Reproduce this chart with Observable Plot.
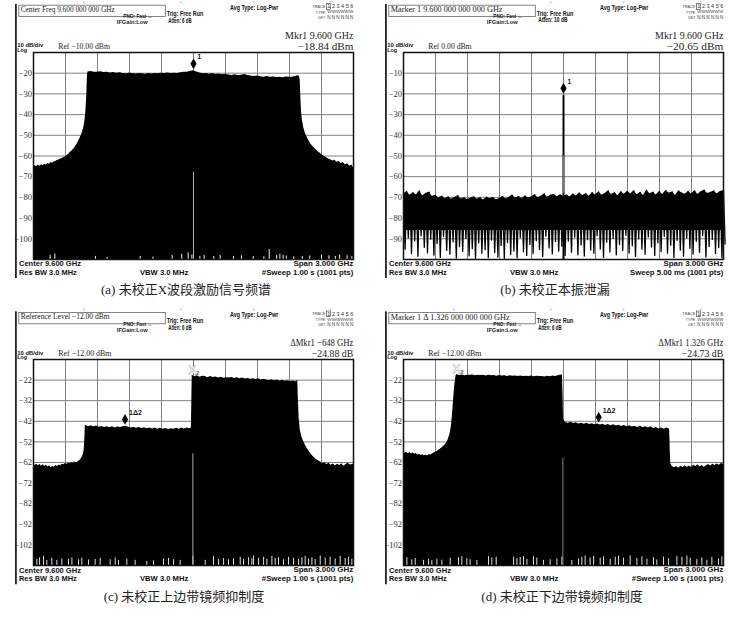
<!DOCTYPE html>
<html><head><meta charset="utf-8">
<script src="https://cdn.jsdelivr.net/npm/d3@7"></script>
<script src="https://cdn.jsdelivr.net/npm/@observablehq/plot@0.6"></script>
<style>
body{margin:0;background:#fff;}
#root{position:relative;width:733px;height:618px;overflow:hidden;background:#fff}
.pl{position:absolute}
</style></head><body>
<div id="root"></div>
<script>
// ---------------- DATA ----------------
const xGrid = [8.1, 8.4, 8.7, 9.0, 9.3, 9.6, 9.9, 10.2, 10.5, 10.8, 11.1];
const yGridA = [-10,-20,-30,-40,-50,-60,-70,-80,-90,-100,-110];
const yLabelsA = [-20,-30,-40,-50,-60,-70,-80,-90,-100];
const yGridB = [0,-10,-20,-30,-40,-50,-60,-70,-80,-90,-100];
const yLabelsB = [-10,-20,-30,-40,-50,-60,-70,-80,-90];
const yGridC = [-12,-22,-32,-42,-52,-62,-72,-82,-92,-102,-112];
const yLabelsC = [-22,-32,-42,-52,-62,-72,-82,-92,-102];

// (a) X-band excitation spectrum trace [GHz, dBm]
const aTrace = [
[8.100,-65.5],[8.115,-64.6],[8.130,-65.2],[8.145,-64.4],[8.160,-64.9],[8.175,-64.2],[8.190,-64.7],[8.205,-63.9],
[8.220,-64.3],[8.235,-63.6],[8.250,-64.0],[8.265,-63.2],[8.280,-63.5],[8.295,-62.8],[8.310,-62.6],[8.325,-62.1],
[8.340,-61.9],[8.355,-61.5],[8.370,-61.2],[8.385,-60.7],[8.400,-60.4],[8.415,-59.8],[8.430,-59.2],[8.445,-58.3],
[8.460,-57.6],[8.475,-56.9],[8.490,-55.8],[8.505,-54.6],[8.520,-53.2],[8.535,-51.5],[8.550,-49.8],[8.565,-47.5],
[8.575,-45.5],[8.585,-42.0],[8.593,-37.0],[8.600,-30.0],[8.605,-22.0],[8.610,-19.4],[8.640,-19.2],[8.670,-19.5],
[8.700,-19.6],[8.730,-19.3],[8.760,-19.7],[8.790,-19.6],[8.820,-19.9],[8.850,-19.7],[8.880,-20.0],[8.910,-19.8],
[8.940,-20.1],[8.970,-20.3],[9.000,-20.0],[9.030,-20.2],[9.060,-20.4],[9.090,-20.1],[9.120,-20.3],[9.150,-20.5],
[9.180,-20.2],[9.210,-20.4],[9.240,-20.1],[9.270,-20.3],[9.300,-20.0],[9.330,-20.2],[9.360,-19.9],[9.390,-20.1],
[9.420,-20.0],[9.450,-20.2],[9.480,-19.8],[9.510,-19.6],[9.540,-19.5],[9.570,-19.2],[9.600,-18.84],[9.630,-19.4],
[9.660,-19.9],[9.690,-20.3],[9.720,-20.1],[9.750,-20.5],[9.780,-20.2],[9.810,-20.6],[9.840,-20.4],[9.870,-20.8],
[9.900,-20.5],[9.930,-20.9],[9.960,-21.1],[9.990,-20.8],[10.020,-21.2],[10.050,-21.0],[10.080,-20.6],[10.110,-21.1],
[10.140,-21.4],[10.170,-21.6],[10.200,-21.3],[10.230,-21.7],[10.260,-21.9],[10.290,-21.6],[10.320,-22.0],[10.350,-21.8],
[10.380,-22.1],[10.410,-21.9],[10.440,-22.2],[10.470,-21.8],[10.500,-22.0],[10.530,-21.9],[10.560,-21.5],[10.590,-21.2],
[10.600,-23.0],[10.605,-30.0],[10.612,-38.0],[10.620,-42.5],[10.632,-46.0],[10.648,-49.0],[10.665,-51.0],[10.685,-53.0],
[10.705,-54.6],[10.725,-55.8],[10.745,-56.9],[10.765,-57.8],[10.785,-58.6],[10.805,-59.4],[10.825,-60.1],[10.845,-60.7],
[10.865,-61.4],[10.885,-61.8],[10.905,-62.4],[10.925,-62.1],[10.945,-63.0],[10.965,-62.7],[10.985,-63.6],[11.005,-63.2],
[11.025,-64.3],[11.045,-63.8],[11.065,-65.0],[11.085,-64.4],[11.100,-65.8]];
// (a) gaps at the bottom of the trace [GHz, top dBm]
const aGaps = [[8.256,-108],[8.30,-107.4],[8.68,-108.5],[8.79,-109],[9.10,-108.5],[9.22,-108.8],[9.40,-108],[9.49,-107.5],
[9.55,-106.8],[9.585,-107.8],[9.66,-108.5],[9.70,-108],[9.79,-108.5],[9.85,-108],[9.975,-108.5],[10.05,-108.2],[10.16,-108.5],
[10.26,-108.7],[10.31,-105.2],[10.38,-108],[10.41,-107.5],[10.44,-108],[10.47,-108.3],[10.54,-108.7],[10.62,-108.5],
[10.69,-108.3],[10.80,-107.8],[10.87,-108.2],[10.93,-108.5],[10.97,-107.9],[11.04,-108.2],[11.085,-108.6]];
const aCarrier = [[9.6, -67.8]];
const aMarker = [[9.6, -18.84]];

// (b) LO leakage: noise extremes on 101 sweep bins (8.10 ... 11.10 GHz)
const bTop = [-68.5,-67.2,-69.0,-67.8,-68.9,-66.9,-69.3,-68.1,-67.5,-69.6,
-69.0,-70.2,-69.4,-70.6,-69.8,-70.9,-70.1,-69.2,-70.8,-70.3,
-71.0,-70.4,-69.7,-70.9,-70.2,-71.2,-69.9,-70.6,-70.1,-71.1,
-70.5,-69.6,-70.8,-70.0,-68.9,-70.4,-69.5,-70.7,-69.3,-70.2,
-69.8,-68.7,-70.1,-69.4,-68.3,-69.9,-69.0,-68.6,-69.7,-68.8,
-69.5,-68.9,-69.8,-68.4,-69.3,-67.9,-69.1,-68.2,-69.4,-67.7,
-68.8,-67.4,-69.0,-68.1,-66.9,-68.6,-67.8,-69.2,-67.3,-68.5,
-67.0,-68.4,-66.8,-68.7,-67.6,-69.1,-66.6,-68.3,-67.5,-68.9,
-67.2,-68.6,-66.7,-68.0,-67.4,-69.0,-66.9,-67.9,-68.5,-67.1,
-68.3,-66.8,-68.6,-67.3,-66.5,-68.1,-67.6,-66.9,-68.4,-67.2,-66.8];
const bBottom = [-95.0,-89.5,-97.2,-91.0,-98.4,-88.6,-94.1,-96.8,-90.2,-97.9,
-92.3,-99.0,-88.9,-95.6,-97.4,-91.5,-99.3,-93.8,-96.1,-89.8,
-98.2,-94.7,-99.5,-92.0,-97.0,-95.3,-99.1,-90.6,-96.7,-98.8,
-93.2,-99.4,-91.8,-97.6,-95.9,-99.2,-89.4,-96.3,-98.0,-92.7,
-97.1,-90.9,-95.2,-98.6,-88.7,-94.4,-97.3,-91.3,-96.0,-93.6,
-98.0,-91.1,-96.5,-89.2,-97.7,-93.0,-98.3,-90.4,-95.4,-97.0,
-88.5,-94.9,-99.0,-91.6,-96.4,-89.9,-97.8,-92.8,-95.7,-88.3,
-96.9,-93.4,-98.5,-90.0,-95.0,-97.5,-89.1,-94.0,-98.1,-91.9,
-96.2,-88.8,-97.0,-93.1,-99.0,-90.7,-95.5,-98.4,-89.6,-94.6,
-97.4,-91.2,-96.6,-88.4,-98.9,-93.7,-90.3,-97.1,-94.2,-99.2,-92.5];
const bCoreFloor = -86;      // lower edge of the solid part of the noise band
const bLeak = [[9.6, -20.65]];

// (c) upper-sideband image rejection trace
const cTrace = [
[8.100,-62.6],[8.115,-63.4],[8.130,-62.8],[8.145,-63.6],[8.160,-63.0],[8.175,-63.8],[8.190,-63.1],[8.205,-63.9],
[8.220,-63.3],[8.235,-64.2],[8.250,-63.6],[8.265,-64.5],[8.280,-63.9],[8.295,-64.3],[8.310,-63.5],[8.325,-64.0],
[8.340,-63.2],[8.355,-63.6],[8.370,-62.8],[8.385,-63.1],[8.400,-62.5],[8.415,-62.9],[8.430,-62.2],[8.445,-62.6],
[8.460,-62.0],[8.475,-62.4],[8.490,-61.8],[8.505,-62.2],[8.520,-61.5],[8.535,-61.0],[8.550,-60.0],[8.565,-58.5],
[8.575,-56.0],[8.582,-50.0],[8.586,-44.2],
[8.590,-44.0],[8.615,-44.6],[8.640,-44.2],[8.665,-44.8],[8.690,-44.3],[8.715,-44.9],[8.740,-44.5],[8.765,-45.0],
[8.790,-44.6],[8.815,-45.1],[8.840,-44.7],[8.865,-45.2],[8.890,-44.8],[8.915,-45.0],[8.940,-44.6],[8.965,-44.4],
[8.990,-44.9],[9.015,-45.3],[9.040,-44.9],[9.065,-45.4],[9.090,-45.0],[9.115,-45.5],[9.140,-45.1],[9.165,-45.6],
[9.190,-45.2],[9.215,-45.7],[9.240,-45.3],[9.265,-45.8],[9.290,-45.4],[9.315,-45.9],[9.340,-45.5],[9.365,-46.0],
[9.390,-45.6],[9.415,-45.9],[9.440,-45.4],[9.465,-45.8],[9.490,-45.3],[9.515,-45.7],[9.540,-45.2],[9.565,-45.6],
[9.580,-45.3],[9.585,-30.0],[9.588,-19.6],
[9.610,-20.4],[9.635,-19.9],[9.660,-20.6],[9.685,-20.1],[9.710,-20.3],[9.735,-20.8],[9.760,-20.2],[9.785,-20.7],
[9.810,-20.5],[9.835,-21.0],[9.860,-20.6],[9.885,-21.1],[9.910,-20.8],[9.935,-21.0],[9.960,-20.7],[9.985,-21.2],
[10.010,-20.9],[10.035,-21.4],[10.060,-21.0],[10.085,-21.5],[10.110,-21.2],[10.135,-21.6],[10.160,-21.3],[10.185,-21.7],
[10.210,-21.4],[10.235,-21.9],[10.260,-21.6],[10.285,-21.9],[10.310,-22.2],[10.335,-21.8],[10.360,-22.3],[10.385,-22.0],
[10.410,-22.4],[10.435,-22.1],[10.460,-22.6],[10.485,-22.3],[10.510,-22.7],[10.535,-22.4],[10.560,-22.8],[10.578,-22.2],
[10.582,-30.0],[10.590,-40.0],[10.600,-46.0],[10.615,-49.5],[10.630,-51.5],[10.650,-53.8],[10.670,-55.6],[10.690,-57.0],
[10.710,-58.4],[10.730,-59.6],[10.750,-60.5],[10.770,-61.2],[10.790,-61.8],[10.810,-62.6],[10.830,-62.1],[10.850,-63.0],
[10.870,-62.4],[10.890,-63.3],[10.910,-62.7],[10.930,-63.6],[10.950,-62.9],[10.970,-63.4],[10.990,-62.6],[11.010,-63.8],
[11.030,-63.0],[11.050,-62.4],[11.070,-63.2],[11.100,-62.8]];
const cGaps = [[8.132,-109],[8.157,-108.2],[8.194,-107.5],[8.225,-109.5],[8.272,-108.5],[8.319,-109.5],[8.366,-108.8],
[8.428,-109],[8.460,-108.3],[8.522,-109.2],[8.553,-108.5],[8.616,-109.3],[8.678,-109],[8.725,-108.6],[8.819,-109.2],
[8.866,-108.3],[8.897,-109.5],[8.975,-109],[9.053,-109.5],[9.163,-110],[9.225,-109.7],[9.319,-108.8],[9.366,-108.5],
[9.413,-109.2],[9.475,-109.5],[9.594,-107.5],[9.710,-109.5],[9.788,-107.6],[9.835,-109],[9.882,-108.6],[9.928,-109.2],
[9.975,-108.7],[10.038,-108.0],[10.069,-109],[10.116,-108.2],[10.147,-108.8],[10.163,-107.4],[10.210,-108.5],
[10.257,-108.0],[10.288,-108.9],[10.335,-107.6],[10.366,-108.6],[10.397,-108.2],[10.444,-109.2],[10.491,-108.0],
[10.538,-108.5],[10.585,-109],[10.616,-108.2],[10.647,-107.6],[10.678,-108.8],[10.710,-108.3],[10.741,-109.1],
[10.788,-107.4],[10.835,-108.4],[10.881,-108.0],[10.928,-108.8],[10.975,-107.5],[11.022,-108.6],[11.053,-108.0],[11.085,-108.9]];
const cCarrier = [[9.594, -57.8]];
const cMarker1 = [[8.958, -44.5]];
const cMarker2 = [[9.588, -19.6]];

// (d) lower-sideband image rejection trace
const dTrace = [
[8.100,-56.8],[8.115,-57.5],[8.130,-57.0],[8.145,-57.7],[8.160,-57.2],[8.175,-57.9],[8.190,-57.4],[8.205,-58.0],
[8.220,-57.6],[8.235,-58.3],[8.250,-58.0],[8.265,-58.6],[8.280,-58.2],[8.295,-58.7],[8.310,-58.4],[8.325,-58.8],
[8.340,-58.1],[8.355,-58.4],[8.370,-57.9],[8.385,-57.5],[8.400,-57.0],[8.415,-56.6],[8.430,-56.0],[8.460,-55.0],
[8.490,-53.5],[8.515,-51.5],[8.535,-48.5],[8.550,-44.0],[8.562,-37.0],[8.572,-30.0],[8.582,-24.0],[8.592,-20.0],
[8.600,-19.3],[8.625,-19.8],[8.650,-19.5],[8.675,-19.9],[8.700,-19.6],[8.725,-19.7],[8.750,-19.5],[8.775,-19.9],
[8.800,-19.6],[8.825,-19.8],[8.850,-19.7],[8.875,-20.0],[8.900,-19.7],[8.925,-19.9],[8.950,-19.8],[8.975,-20.1],
[9.000,-19.8],[9.025,-20.0],[9.050,-19.9],[9.075,-20.2],[9.100,-19.9],[9.125,-20.1],[9.150,-20.0],[9.175,-20.3],
[9.200,-20.0],[9.225,-20.2],[9.250,-20.1],[9.275,-20.3],[9.300,-20.0],[9.325,-20.4],[9.350,-20.1],[9.375,-20.3],
[9.400,-20.2],[9.425,-20.5],[9.450,-20.1],[9.475,-20.4],[9.500,-20.0],[9.525,-20.2],[9.550,-19.9],[9.575,-19.5],
[9.590,-19.7],[9.596,-30.0],[9.600,-41.0],
[9.620,-42.6],[9.645,-42.9],[9.670,-42.5],[9.695,-43.1],[9.720,-42.7],[9.745,-43.3],[9.770,-42.9],[9.795,-43.4],
[9.820,-43.0],[9.845,-43.6],[9.870,-43.2],[9.895,-43.7],[9.920,-43.3],[9.945,-43.8],[9.970,-43.4],[9.995,-44.0],
[10.020,-43.6],[10.045,-44.1],[10.070,-43.7],[10.095,-44.3],[10.120,-43.9],[10.145,-44.5],[10.170,-44.0],[10.195,-44.7],
[10.220,-44.2],[10.245,-44.8],[10.270,-44.4],[10.295,-45.0],[10.320,-44.3],[10.345,-45.1],[10.370,-44.7],[10.395,-45.3],
[10.420,-44.6],[10.445,-45.5],[10.470,-45.0],[10.495,-45.7],[10.520,-45.2],[10.545,-45.8],[10.570,-45.3],[10.595,-45.9],
[10.600,-55.0],[10.605,-62.5],
[10.620,-63.9],[10.640,-64.5],[10.660,-64.0],[10.680,-64.8],[10.700,-63.8],[10.720,-64.4],[10.740,-63.6],[10.760,-64.3],
[10.780,-63.7],[10.800,-64.4],[10.820,-63.3],[10.840,-64.0],[10.860,-63.1],[10.880,-64.2],[10.900,-63.5],[10.920,-64.4],
[10.940,-63.6],[10.960,-63.0],[10.980,-63.7],[11.000,-62.8],[11.020,-63.4],[11.040,-62.7],[11.060,-63.3],[11.080,-62.5],[11.100,-62.9]];
const dGaps = [[8.132,-108.2],[8.178,-109.3],[8.210,-108.6],[8.288,-109.5],[8.335,-108.9],[8.366,-109.6],[8.413,-109.0],
[8.460,-109.4],[8.538,-108.5],[8.616,-108.2],[8.647,-107.8],[8.694,-108.7],[8.725,-109.2],[8.788,-109.6],[8.897,-107.7],
[8.928,-108.3],[8.969,-108.0],[9.132,-108.0],[9.163,-108.6],[9.194,-108.1],[9.225,-107.7],[9.257,-109.0],[9.319,-107.8],
[9.350,-108.4],[9.413,-109.5],[9.475,-109.2],[9.538,-108.8],[9.585,-107.9],[9.678,-109.6],[9.741,-108.8],[9.772,-108.0],
[9.803,-107.4],[9.850,-108.3],[9.882,-107.6],[9.944,-108.5],[9.975,-107.8],[10.038,-109.0],[10.085,-107.9],[10.116,-107.5],
[10.163,-108.4],[10.225,-107.3],[10.288,-108.6],[10.335,-107.8],[10.382,-108.9],[10.444,-108.2],[10.475,-109.3],
[10.538,-107.9],[10.585,-108.7],[10.663,-107.6],[10.710,-108.0],[10.757,-107.4],[10.788,-108.5],[10.850,-109.0],
[10.897,-108.4],[10.944,-109.5],[10.991,-108.1],[11.053,-108.9],[11.085,-107.8]];
const dCarrier = [[9.594, -60.0]];
const dMarker1 = [[9.930, -43.4]];
const dMarker2 = [[8.596, -19.3]];

// ---------------- LAYOUT / TEXT ----------------
const SERIF = "'Liberation Serif','Times New Roman',serif";
const SANS = "'Liberation Sans',Arial,sans-serif";
const CAP = "'Liberation Serif','Noto Sans CJK SC',serif";

const panels = [
 {gx:33.3, gy:52, H:207, dom:[-110,-10], grid:yGridA, labels:yLabelsA,
  header:"Center Freq 9.600 000 000 GHz", headerW:94, mkr:"Mkr1 9.600 GHz", mkrW:68.3,
  val:"\u221218.84 dBm", valW:55.6, ref:"Ref \u221210.00 dBm", refW:51.7, atten:"Atten: 6 dB", attenW:23.3,
  sweep:"#Sweep  1.00 s (1001 pts)", sweepW:91.7, caption:"(a) 未校正X波段激励信号频谱", capX:186},
 {gx:403.3, gy:52, H:207, dom:[-100,0], grid:yGridB, labels:yLabelsB,
  header:"Marker 1 9.600 000 000 000 GHz", headerW:112, mkr:"Mkr1 9.600 GHz", mkrW:68.3,
  val:"\u221220.65 dBm", valW:56.7, ref:"Ref 0.00 dBm", refW:43.3, atten:"Atten: 10 dB", attenW:29.3,
  sweep:"Sweep  5.00 ms (1001 pts)", sweepW:93.3, caption:"(b) 未校正本振泄漏", capX:555},
 {gx:33.3, gy:359.3, H:206, dom:[-112,-12], grid:yGridC, labels:yLabelsC,
  header:"Reference Level \u221212.00 dBm", headerW:89, mkr:"\u0394Mkr1 \u2212648 GHz", mkrW:63.3,
  val:"\u221224.88 dB", valW:41.7, ref:"Ref \u221212.00 dBm", refW:53.3, atten:"Atten: 6 dB", attenW:23.3,
  sweep:"#Sweep  1.00 s (1001 pts)", sweepW:91.7, caption:"(c) 未校正上边带镜频抑制度", capX:184},
 {gx:403.3, gy:359.3, H:206, dom:[-112,-12], grid:yGridC, labels:yLabelsC,
  header:"Marker 1 \u0394 1.326 000 000 000 GHz", headerW:119, mkr:"\u0394Mkr1 1.326 GHz", mkrW:65,
  val:"\u221224.73 dB", valW:41.7, ref:"Ref \u221212.00 dBm", refW:53.3, atten:"Atten: 6 dB", attenW:23.3,
  sweep:"#Sweep  1.00 s (1001 pts)", sweepW:91.7, caption:"(d) 未校正下边带镜频抑制度", capX:562}
];

const root = document.getElementById("root");
const ML = 24, MT = 12, MR = 8, MB = 8;

const tallDiamond = {draw(ctx) { const w = 3.1, h = 5.4; ctx.moveTo(0,-h); ctx.lineTo(w,0); ctx.lineTo(0,h); ctx.lineTo(-w,0); ctx.closePath(); }};

function diamondMarks(pts, label) {
  return [
    Plot.dot(pts, {x: d => d[0], y: d => d[1], symbol: tallDiamond, r: 5, fill: "#000", stroke: "none", dy: -7}),
    Plot.text(pts, {x: d => d[0], y: d => d[1], text: () => label, dx: 4, dy: -13.5, textAnchor: "start",
      fontSize: label.length > 1 ? 7 : 6.5, fontWeight: "bold", fontFamily: SANS, fill: "#111"})
  ];
}
function refMarks(pts) {
  return [
    Plot.text(pts, {x: d => d[0], y: d => d[1], text: () => "X", dy: -5, fontSize: 11, fontFamily: SANS,
      fill: "#fff", stroke: "#999", strokeWidth: 0.8}),
    Plot.text(pts, {x: d => d[0], y: d => d[1], text: () => "2", dx: 5.5, dy: -2, fontSize: 6, fontWeight: "bold",
      fontFamily: SANS, fill: "#666"})
  ];
}

function makePlot(p, marks) {
  const svg = Plot.plot({
    width: 320 + ML + MR, height: p.H + MT + MB,
    marginLeft: ML, marginTop: MT, marginRight: MR, marginBottom: MB,
    x: {domain: [8.1, 11.1]},
    y: {domain: p.dom},
    style: {background: "transparent", overflow: "visible", fontFamily: SERIF, fontSize: "8.5px", color: "#333"},
    marks: [
      Plot.ruleX(xGrid, {stroke: "#808080", strokeWidth: 1}),
      Plot.ruleY(p.grid, {stroke: "#808080", strokeWidth: 1}),
      ...marks,
      Plot.frame({stroke: "#111", strokeWidth: 1.5}),
      Plot.axisX({ticks: [], label: null}),
      Plot.axisY({ticks: p.labels, tickSize: 0, tickPadding: 1.5, label: null, tickFormat: d => "\u2212" + Math.abs(d)})
    ]
  });
  svg.classList.add("pl");
  svg.style.left = (p.gx - ML) + "px";
  svg.style.top = (p.gy - MT) + "px";
  root.appendChild(svg);
}

// (a)
makePlot(panels[0], [
  Plot.areaY(aTrace, {x: d => d[0], y1: -110, y2: d => d[1], fill: "#000"}),
  Plot.ruleX(aGaps, {x: d => d[0], y1: -110, y2: d => d[1], stroke: "#f2f2f2", strokeWidth: 1}),
  Plot.ruleX(aCarrier, {x: d => d[0], y1: -110, y2: d => d[1], stroke: "#b0b0b0", strokeWidth: 1}),
  ...diamondMarks(aMarker, "1")
]);
// (b): sweep bins, trace alternates between the high and low extremes of each bin
const bData = bTop.map((t, i) => ({f: 8.1 + 0.03 * i, top: t, bot: bBottom[i]}));
const bTraceZig = bData.flatMap(d => [{f: d.f, v: d.top}, {f: d.f + 0.015, v: d.bot}]);
makePlot(panels[1], [
  Plot.areaY(bData, {x: "f", y1: bCoreFloor, y2: "top", fill: "#000"}),
  Plot.line(bTraceZig, {x: "f", y: "v", stroke: "#000", strokeWidth: 1.3}),
  Plot.ruleX(bLeak, {x: d => d[0], y1: -100, y2: d => d[1], stroke: "#000", strokeWidth: 2}),
  Plot.ruleX(bLeak, {x: d => d[0], y1: -68, y2: -50, stroke: "#777", strokeWidth: 1.2}),
  ...diamondMarks(bLeak, "1")
]);
// (c)
makePlot(panels[2], [
  Plot.areaY(cTrace, {x: d => d[0], y1: -112, y2: d => d[1], fill: "#000"}),
  Plot.ruleX(cGaps, {x: d => d[0], y1: -112, y2: d => d[1], stroke: "#e0e0e0", strokeWidth: 1}),
  Plot.ruleX(cCarrier, {x: d => d[0], y1: -112, y2: d => d[1], stroke: "#aaa", strokeWidth: 1}),
  ...diamondMarks(cMarker1, "1\u03942"),
  ...refMarks(cMarker2)
]);
// (d)
makePlot(panels[3], [
  Plot.areaY(dTrace, {x: d => d[0], y1: -112, y2: d => d[1], fill: "#000"}),
  Plot.ruleX(dGaps, {x: d => d[0], y1: -112, y2: d => d[1], stroke: "#e0e0e0", strokeWidth: 1}),
  Plot.ruleX(dCarrier, {x: d => d[0], y1: -112, y2: d => d[1], stroke: "#888", strokeWidth: 1}),
  ...diamondMarks(dMarker1, "1\u03942"),
  ...refMarks(dMarker2)
]);

// ---------------- OVERLAY TEXT ----------------
const ov = d3.select(root).append("svg").attr("width", 733).attr("height", 618)
  .style("position", "absolute").style("left", 0).style("top", 0).style("pointer-events", "none");

function T(x, y, s, o = {}) {
  const t = ov.append("text").attr("x", 0).attr("y", 0).attr("dominant-baseline", "central")
    .attr("font-family", o.family || SANS).attr("font-size", o.size || 7)
    .attr("font-weight", o.weight || "normal").attr("fill", o.fill || "#111")
    .attr("text-anchor", o.anchor || "start").text(s);
  let k = 1;
  if (o.w) { const L = t.node().getComputedTextLength(); if (L > 0) k = o.w / L; }
  t.attr("transform", `translate(${x},${y}) scale(${k.toFixed(4)},1)`);
  return t;
}

for (const p of panels) {
  const gx = p.gx, gy = p.gy;
  ov.append("rect").attr("x", gx - 18.3).attr("y", gy - 48).attr("width", 1.8).attr("height", p.H + 20 + 47).attr("fill", "#222");
  for (const dx of [50, 147, 220, 297]) ov.append("rect").attr("x", gx + dx).attr("y", gy - 51).attr("width", 1).attr("height", 2.5).attr("fill", "#bbb");
  ov.append("rect").attr("x", gx - 14.5).attr("y", gy - 46.8).attr("width", 146.5).attr("height", 11.3)
    .attr("fill", "none").attr("stroke", "#666").attr("stroke-width", 0.8);
  T(gx - 12.6, gy - 42.6, p.header, {family: SERIF, size: 8.6, w: p.headerW, fill: "#222"});
  T(gx + 90, gy - 35.2, "PNO: Fast \u2194", {size: 5, weight: "bold", w: 29, fill: "#222"});
  T(gx + 83.5, gy - 29.6, "IFGain:Low", {size: 5, weight: "bold", w: 31, fill: "#222"});
  T(gx + 133.4, gy - 38.3, "Trig: Free Run", {size: 6.3, weight: "bold", w: 36.7});
  T(gx + 135, gy - 31.8, p.atten, {size: 6.3, weight: "bold", w: p.attenW});
  T(gx + 196.7, gy - 44, "Avg Type: Log-Pwr", {size: 6.3, weight: "bold", w: 48.3});
  T(gx + 292, gy - 45.5, "TRACE", {size: 4.2, anchor: "end", w: 13, fill: "#444"});
  T(gx + 292, gy - 40, "TYPE", {size: 4.2, anchor: "end", w: 9.5, fill: "#444"});
  T(gx + 292, gy - 34.5, "DET", {size: 4.2, anchor: "end", w: 7, fill: "#444"});
  ov.append("rect").attr("x", gx + 293).attr("y", gy - 48.3).attr("width", 4).attr("height", 5.6).attr("fill", "none").attr("stroke", "#333").attr("stroke-width", 0.6);
  T(gx + 294, gy - 45.5, "1 2 3 4 5 6", {size: 5, w: 26, fill: "#333"});
  T(gx + 294, gy - 40, "WWWWWW", {size: 4.2, w: 26, fill: "#444"});
  T(gx + 294, gy - 34.5, "N N N N N N", {size: 4.6, w: 26, fill: "#333"});
  T(gx + 320, gy - 16.5, p.mkr, {family: SERIF, size: 10, anchor: "end", w: p.mkrW, fill: "#222"});
  T(gx + 320, gy - 5.8, p.val, {family: SERIF, size: 10, anchor: "end", w: p.valW, fill: "#222"});
  T(gx - 16, gy - 6.8, "10 dB/div", {size: 6.2, weight: "bold", w: 26});
  T(gx - 16, gy - 2, "Log", {size: 6.2, weight: "bold", w: 9.7});
  T(gx + 25, gy - 6, p.ref, {family: SERIF, size: 9, w: p.refW, fill: "#222"});
  const yb = gy + p.H;
  T(gx - 14.3, yb + 4.8, "Center 9.600 GHz", {size: 7.3, weight: "bold", w: 62});
  T(gx - 14.3, yb + 13.5, "Res BW 3.0 MHz", {size: 7.3, weight: "bold", w: 57.7});
  T(gx + 106.7, yb + 13.5, "VBW 3.0 MHz", {size: 7.3, weight: "bold", w: 48.3});
  T(gx + 320, yb + 4.8, "Span 3.000 GHz", {size: 7.3, weight: "bold", anchor: "end", w: 60});
  T(gx + 320, yb + 13.5, p.sweep, {size: 7.3, weight: "bold", anchor: "end", w: p.sweepW});
  T(p.capX, gy + 237, p.caption, {family: CAP, size: 13, anchor: "middle", fill: "#222"});
}
</script>
</body></html>
